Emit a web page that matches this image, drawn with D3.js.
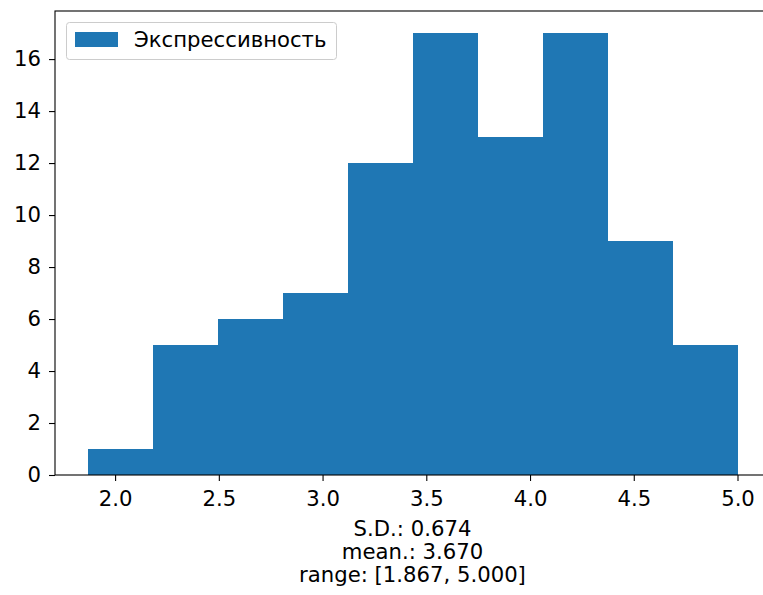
<!DOCTYPE html>
<html>
<head>
<meta charset="utf-8">
<script src="https://cdn.jsdelivr.net/npm/d3@7"></script>
<style>
  body { margin: 0; background: #fff; }
</style>
</head>
<body>
<svg id="chart" width="763" height="595"></svg>
<script>
// histogram data
const binStart = 1.867;
const binEnd = 5.0;
const counts = [1, 5, 6, 7, 12, 17, 13, 17, 9, 5];
const xTicks = [2.0, 2.5, 3.0, 3.5, 4.0, 4.5, 5.0];
const yTicks = [0, 2, 4, 6, 8, 10, 12, 14, 16];
const seriesName = "Экспрессивность";
const statLines = ["S.D.: 0.674", "mean.: 3.670", "range: [1.867, 5.000]"];

const binW = (binEnd - binStart) / counts.length;
const bins = counts.map((c, i) => ({x0: binStart + i * binW, x1: binStart + (i + 1) * binW, n: c}));

const margin = {top: 11, left: 55, right: 770, bottom: 475};
const pad = (binEnd - binStart) * 0.05;
const fs = "21.2px";
const ff = "'DejaVu Sans'";

const x = d3.scaleLinear().domain([binStart - pad, binEnd + pad]).range([margin.left, margin.right]);
const y = d3.scaleLinear().domain([0, d3.max(counts) * 1.05]).range([margin.bottom, margin.top]);

const svg = d3.select("#chart");
const color = "#1f77b4";

svg.append("g").selectAll("rect")
  .data(bins)
  .join("rect")
  .attr("x", d => x(d.x0))
  .attr("width", d => x(d.x1) - x(d.x0))
  .attr("y", d => y(d.n))
  .attr("height", d => y(0) - y(d.n))
  .attr("fill", color)
  .attr("shape-rendering", "crispEdges");

const xAxis = d3.axisBottom(x).tickValues(xTicks).tickFormat(d3.format(".1f")).tickSize(6).tickPadding(10);
const yAxis = d3.axisLeft(y).tickValues(yTicks).tickFormat(d3.format("d")).tickSize(6).tickPadding(8);

const gx = svg.append("g").attr("transform", `translate(0,${margin.bottom})`).call(xAxis);
const gy = svg.append("g").attr("transform", `translate(${margin.left},0)`).call(yAxis);
[gx, gy].forEach(g => {
  g.select(".domain").remove();
  g.selectAll("line").attr("stroke", "#000").attr("stroke-width", 1.1);
  g.selectAll("text").style("font-size", fs).style("font-family", ff).attr("fill", "#000");
});

// spines
svg.append("rect")
  .attr("x", margin.left).attr("y", margin.top)
  .attr("width", margin.right - margin.left).attr("height", margin.bottom - margin.top)
  .attr("fill", "none").attr("stroke", "#000").attr("stroke-width", 1.1);

// stats text under the axis
svg.append("g").selectAll("text")
  .data(statLines)
  .join("text")
  .attr("x", (margin.left + margin.right) / 2)
  .attr("y", (d, i) => 536 + i * 23)
  .attr("text-anchor", "middle")
  .style("font-size", fs)
  .style("font-family", ff)
  .text(d => d);

// legend
const lg = svg.append("g");
lg.append("rect")
  .attr("x", 66.5).attr("y", 22.5).attr("width", 270).attr("height", 37).attr("rx", 3)
  .attr("fill", "#fff").attr("fill-opacity", 0.8).attr("stroke", "#ccc").attr("stroke-width", 1);
lg.append("rect")
  .attr("x", 75).attr("y", 32).attr("width", 43).attr("height", 15).attr("fill", color);
lg.append("text")
  .attr("x", 134).attr("y", 47)
  .style("font-size", fs)
  .style("font-family", ff)
  .text(seriesName);
</script>
</body>
</html>
